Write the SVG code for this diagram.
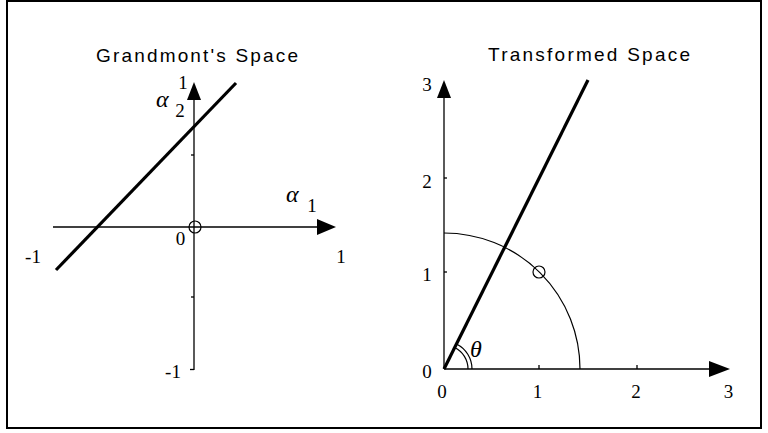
<svg xmlns="http://www.w3.org/2000/svg" width="768" height="433" viewBox="0 0 768 433">
<style>
.ax{stroke:#000;stroke-width:1.3;fill:none}
.thick{stroke:#000;stroke-width:3.2;fill:none;stroke-linecap:butt}
.thin{stroke:#000;stroke-width:1.2;fill:none}
.title{font-family:"Liberation Sans",Arial,sans-serif;font-size:19px;fill:#000}
.num{font-family:"Liberation Serif","Times New Roman",serif;font-size:19px;fill:#000;text-anchor:middle}
.greek{font-family:"Liberation Serif","Times New Roman",serif;font-style:italic;font-size:24px;fill:#000}
.head{fill:#000;stroke:none}
</style>
<rect x="7" y="1" width="754" height="427" fill="#fff" stroke="#000" stroke-width="2"/>

<g id="left-plot">
  <text class="title" x="96" y="62" textLength="202" lengthAdjust="spacing">Grandmont's Space</text>
  <line class="ax" x1="53" y1="227" x2="318" y2="227"/>
  <polygon class="head" points="336,227 317,219 317,235"/>
  <line class="ax" x1="194" y1="370" x2="194" y2="100"/>
  <polygon class="head" points="194,82 187,100 201,100"/>
  <line class="ax" x1="191" y1="155" x2="194" y2="155"/>
  <line class="ax" x1="191" y1="297" x2="194" y2="297"/>
  <line class="ax" x1="190" y1="369.5" x2="194" y2="369.5"/>
  <circle class="thin" cx="195" cy="227" r="6"/>
  <line class="thick" x1="56" y1="270" x2="236" y2="83"/>
  <text class="num" x="183" y="89">1</text>
  <text class="greek" x="156" y="107">α</text>
  <text class="num" x="180" y="117">2</text>
  <text class="greek" x="286" y="202">α</text>
  <text class="num" x="312" y="212">1</text>
  <text class="num" x="180.5" y="245">0</text>
  <text class="num" x="33" y="263">-1</text>
  <text class="num" x="341" y="263">1</text>
  <text class="num" x="173" y="378">-1</text>
</g>

<g id="right-plot">
  <text class="title" x="488" y="61" textLength="202" lengthAdjust="spacing">Transformed Space</text>
  <line class="ax" x1="444" y1="369" x2="444" y2="98"/>
  <polygon class="head" points="444,80 437,98 451,98"/>
  <line class="ax" x1="444" y1="369" x2="710" y2="369"/>
  <polygon class="head" points="730,369 709,361 709,377"/>
  <line class="ax" x1="539" y1="365" x2="539" y2="369"/>
  <line class="ax" x1="637" y1="365" x2="637" y2="369"/>
  <line class="ax" x1="444" y1="272" x2="447" y2="272"/>
  <line class="ax" x1="444" y1="178" x2="447" y2="178"/>
  <path class="thin" d="M444,233 A136,136 0 0,1 580,369"/>
  <circle class="thin" cx="539" cy="272" r="6"/>
  <line class="thick" x1="444" y1="369" x2="588" y2="80"/>
  <path class="thin" d="M468,369 A24,24 0 0,0 454.7,347.5"/>
  <path class="thin" d="M472,369 A28,28 0 0,0 456.5,344"/>
  <text class="greek" x="470" y="357">θ</text>
  <text class="num" x="427" y="91">3</text>
  <text class="num" x="427" y="188">2</text>
  <text class="num" x="427" y="281">1</text>
  <text class="num" x="427" y="378">0</text>
  <text class="num" x="442" y="398">0</text>
  <text class="num" x="537.5" y="398">1</text>
  <text class="num" x="636" y="398">2</text>
  <text class="num" x="728.5" y="398">3</text>
</g>
</svg>
